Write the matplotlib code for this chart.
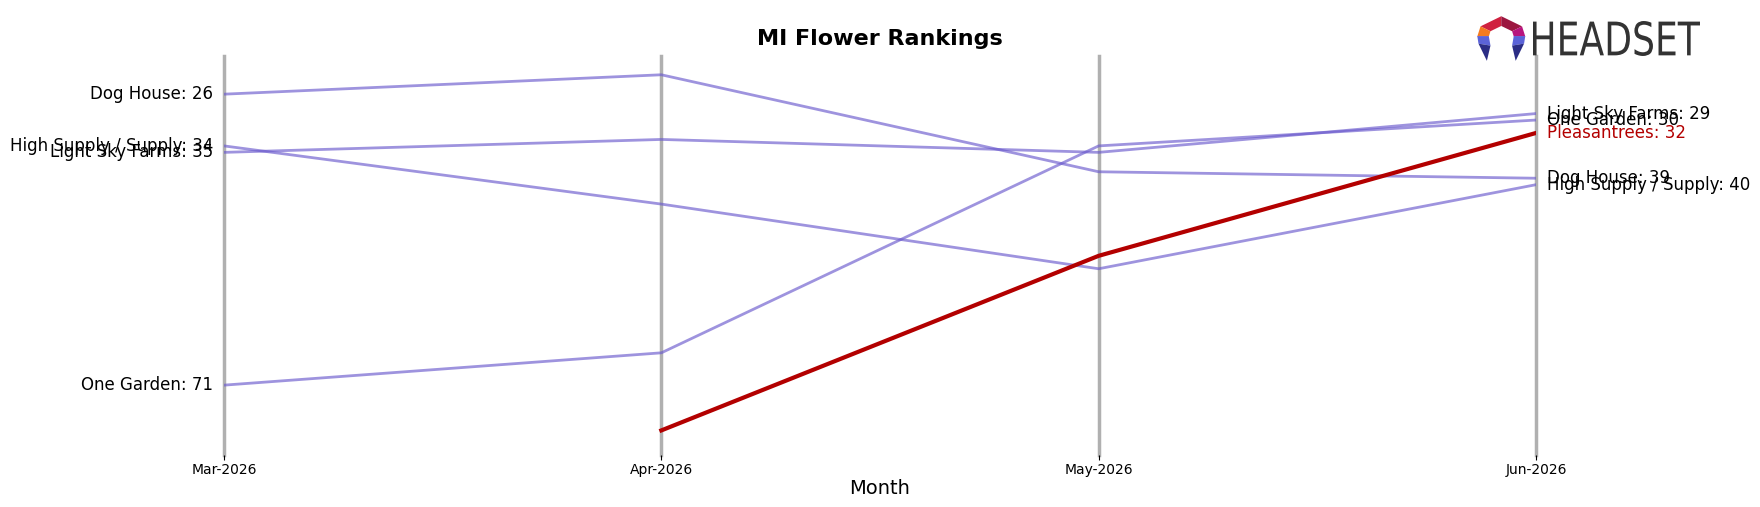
import matplotlib.pyplot as plt
from matplotlib.patches import Polygon, PathPatch
from matplotlib.textpath import TextPath
from matplotlib.font_manager import FontProperties
from matplotlib.transforms import Affine2D, IdentityTransform
import numpy as np

# Data: monthly rank per brand (None = not ranked that month)
months = ['Mar-2026', 'Apr-2026', 'May-2026', 'Jun-2026']
brands = ['Dog House', 'Light Sky Farms', 'High Supply / Supply', 'One Garden', 'Pleasantrees']
dog_house = [26, 23, 38, 39]
light_sky_farms = [35, 33, 35, 29]
high_supply = [34, 43, 53, 40]
one_garden = [71, 66, 34, 30]
pleasantrees = [None, 78, 51, 32]
highlight = 'Pleasantrees'

ranks = [dog_house, light_sky_farms, high_supply, one_garden, pleasantrees]


def draw_logo(fig):
    # rough version of the Headset mark: open hexagon ring + condensed wordmark
    lax = fig.add_axes([0.838, 0.878, 0.030, 0.094])
    lax.set_xlim(-1.1, 1.1)
    lax.set_ylim(-1.25, 1.1)
    lax.axis('off')

    def pt(ang, r):
        a = np.radians(ang)
        return (r * np.cos(a), r * np.sin(a))

    ro, ri = 1.0, 0.52
    pieces = [
        ((150, 90), '#d0213f'),
        ((90, 30), '#9c1740'),
        ((30, 0), '#b8157e'),
        ((180, 150), '#f47b20'),
    ]
    for (a0, a1), col in pieces:
        poly = [pt(a0, ro), pt(a1, ro), pt(a1, ri), pt(a0, ri)]
        lax.add_patch(Polygon(poly, closed=True, color=col, lw=0))
    for sgn in (-1, 1):
        lax.add_patch(Polygon([(sgn * 1.0, 0.02), (sgn * 0.52, 0.02),
                               (sgn * 0.45, -0.45), (sgn * 0.95, -0.35)],
                              closed=True, color='#5b63d8', lw=0))
        lax.add_patch(Polygon([(sgn * 0.45, -0.45), (sgn * 0.95, -0.35),
                               (sgn * 0.6, -1.2)],
                              closed=True, color='#2b2d85', lw=0))

    # wordmark squeezed horizontally into its box (display pixels)
    tp = TextPath((0, 0), 'HEADSET', size=1, prop=FontProperties(family='DejaVu Sans'))
    ext = tp.get_extents()
    x0, x1, y0, y1 = 1533, 1700, 451, 486
    sx = (x1 - x0) / ext.width
    sy = (y1 - y0) / ext.height
    tr = Affine2D().translate(-ext.x0, -ext.y0).scale(sx, sy).translate(x0, y0)
    fig.patches.append(PathPatch(tr.transform_path(tp), facecolor='#333333',
                                 lw=0, transform=IdentityTransform(), figure=fig))


fig = plt.figure(figsize=(17.6, 5.07), dpi=100)
ax = fig.add_axes([0.1273, 0.1026, 0.7454, 0.7869])

x = np.arange(len(months))
for i in x:
    ax.axvline(i, color='#b0b0b0', lw=2.5, zorder=1, clip_on=False)

for name, r in zip(brands, ranks):
    xs = [i for i, v in zip(x, r) if v is not None]
    ys = [v for v in r if v is not None]
    if name == highlight:
        col, lw, tcol, z, alpha = '#b30000', 3, '#b30000', 3, 1.0
    else:
        col, lw, tcol, z, alpha = '#6a5acd', 2, 'black', 2, 0.65
    ax.plot(xs, ys, color=col, lw=lw, alpha=alpha, zorder=z)
    if r[0] is not None:
        ax.annotate(f'{name}: {r[0]}', xy=(0, r[0]), xytext=(-8, 0),
                    textcoords='offset points', ha='right', va='center',
                    fontsize=12, color=tcol, annotation_clip=False)
    ax.annotate(f'{name}: {r[-1]}', xy=(x[-1], r[-1]), xytext=(8, 0),
                textcoords='offset points', ha='left', va='center',
                fontsize=12, color=tcol, annotation_clip=False)

ax.set_xlim(0, len(months) - 1)
ax.set_ylim(81.8, 20.1)
ax.set_xticks(x)
ax.set_xticklabels(months, fontsize=10)
ax.set_yticks([])
ax.tick_params(axis='x', length=3.5, pad=2)
for s in ax.spines.values():
    s.set_visible(False)
ax.set_xlabel('Month', fontsize=14, labelpad=2)
ax.set_title('MI Flower Rankings', fontsize=16, fontweight='bold', pad=8)

draw_logo(fig)

fig.savefig('out.png', dpi=100)
